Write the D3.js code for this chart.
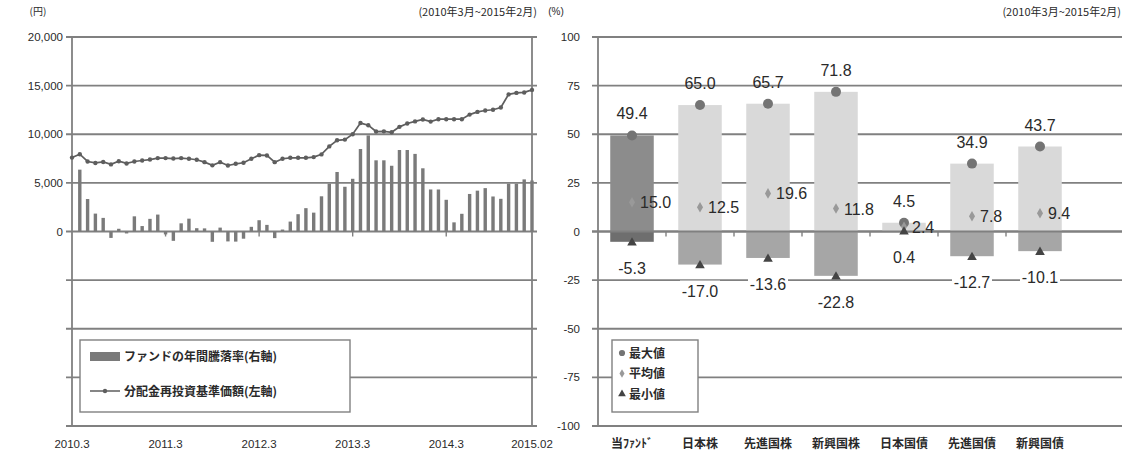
<!DOCTYPE html>
<html><head><meta charset="utf-8">
<script src="https://cdn.jsdelivr.net/npm/d3@7"></script>
<style>
body{margin:0;background:#fff}
svg text{font-family:"Liberation Sans","Noto Sans CJK JP",sans-serif;fill:#2a2a2a}
.jp{font-family:"Noto Sans CJK JP",sans-serif}
</style></head><body>
<svg id="c" width="1125" height="461"></svg>
<script>
// Monthly series, 2010.3 – 2015.02 (60 months)
const navYen = [7600,7950,7200,7050,7150,6900,7230,7000,7200,7300,7400,7550,
  7550,7500,7550,7480,7380,7130,6800,7130,6790,6960,7070,7480,
  7850,7820,7130,7480,7580,7580,7580,7650,7930,8750,9380,9450,
  10000,11150,10930,10280,10300,10200,10760,11100,11320,11520,11300,11550,
  11550,11550,11550,12020,12300,12440,12520,12750,14100,14250,14300,14560];
const annualReturn = [null,31.8,16.7,9.2,7.0,-3.3,1.4,-1.0,7.8,2.8,6.5,8.7,
  -1.5,-4.8,4.2,6.6,1.7,1.6,-5.3,2.0,-5.1,-5.2,-3.7,2.4,
  5.8,3.4,-3.4,1.0,5.1,8.9,12.0,9.7,18.1,24.6,30.6,23.0,
  27.1,42.4,49.4,36.6,36.6,33.8,41.9,41.9,39.9,32.5,21.6,21.6,
  16.3,4.7,9.1,19.3,21.0,22.3,18.0,16.8,24.6,24.6,26.8,26.2];
const monthTickIndex = [0,12,24,36,48,59];
const monthTickLabels = ["2010.3","2011.3","2012.3","2013.3","2014.3","2015.02"];
const yenTicks = [0,5000,10000,15000,20000];

// Asset class comparison
const assetClasses = ["当ﾌｧﾝﾄﾞ","日本株","先進国株","新興国株","日本国債","先進国債","新興国債"];
const maxValues = [49.4,65.0,65.7,71.8,4.5,34.9,43.7];
const avgValues = [15.0,12.5,19.6,11.8,2.4,7.8,9.4];
const minValues = [-5.3,-17.0,-13.6,-22.8,0.4,-12.7,-10.1];
const pctTicks = [-100,-75,-50,-25,0,25,50,75,100];

const periodLabel = "(2010年3月~2015年2月)";

const svg = d3.select("#c");
const GRID = "#808080";

// ---------- left panel ----------
const xL = d3.scaleLinear().domain([0,59]).range([72,532]);
const yYen = d3.scaleLinear().domain([0,20000]).range([231.5,37]);
const yPct = d3.scaleLinear().domain([-100,100]).range([426,37]);

const L = svg.append("g");
L.selectAll("line.grid").data(pctTicks).join("line")
  .attr("x1",66).attr("x2",537)
  .attr("y1",d=>yPct(d)).attr("y2",d=>yPct(d))
  .attr("stroke",GRID).attr("stroke-width",1.8);
L.append("line").attr("x1",xL(0)).attr("x2",xL(0)).attr("y1",yPct(100)).attr("y2",yPct(-100)).attr("stroke",GRID).attr("stroke-width",1.8);
L.append("line").attr("x1",xL(59)).attr("x2",xL(59)).attr("y1",yPct(100)).attr("y2",yPct(-100)).attr("stroke",GRID).attr("stroke-width",1.8);
L.selectAll("line.mt").data(monthTickIndex.slice(1,-1)).join("line")
  .attr("x1",d=>xL(d)).attr("x2",d=>xL(d)).attr("y1",yPct(0)).attr("y2",yPct(0)+5)
  .attr("stroke",GRID).attr("stroke-width",1.4);

L.selectAll("text.yl").data(yenTicks).join("text")
  .attr("x",63).attr("y",d=>yYen(d)+4).attr("text-anchor","end")
  .attr("font-size",11.5).text(d=>d3.format(",")(d));
L.append("text").attr("class","jp").attr("x",38).attr("y",15).attr("text-anchor","middle").attr("font-size",10).text("(円)");
L.append("text").attr("class","jp").attr("x",537).attr("y",16).attr("text-anchor","end").attr("font-size",11).text(periodLabel);

L.selectAll("text.xl").data(monthTickIndex).join("text")
  .attr("x",d=>xL(d)).attr("y",448).attr("text-anchor","middle")
  .attr("font-size",11.5).text((d,i)=>monthTickLabels[i]);

// annual return bars (right-hand % scale)
const barW = 3.4;
L.selectAll("rect.ret").data(annualReturn.map((v,i)=>({v,i})).filter(d=>d.v!==null)).join("rect")
  .attr("x",d=>xL(d.i)-barW/2).attr("width",barW)
  .attr("y",d=>Math.min(yPct(d.v),yPct(0)))
  .attr("height",d=>Math.abs(yPct(d.v)-yPct(0)))
  .attr("fill","#7a7a7a");

// NAV line (left-hand yen scale)
const line = d3.line().x((d,i)=>xL(i)).y(d=>yYen(d));
L.append("path").datum(navYen).attr("d",line).attr("fill","none").attr("stroke","#5e5e5e").attr("stroke-width",1.7);
L.selectAll("circle.nav").data(navYen).join("circle")
  .attr("cx",(d,i)=>xL(i)).attr("cy",d=>yYen(d)).attr("r",2.2).attr("fill","#5e5e5e");

// legend
const lg = L.append("g");
lg.append("rect").attr("x",80).attr("y",340).attr("width",270).attr("height",72).attr("fill","#fff").attr("stroke",GRID).attr("stroke-width",1.4);
lg.append("rect").attr("x",90).attr("y",352).attr("width",30).attr("height",9).attr("fill","#7a7a7a");
lg.append("text").attr("class","jp").attr("x",124).attr("y",361).attr("font-size",12).attr("font-weight","bold").attr("fill","#3a3a3a").text("ファンドの年間騰落率(右軸)");
lg.append("line").attr("x1",90).attr("x2",120).attr("y1",391).attr("y2",391).attr("stroke","#5e5e5e").attr("stroke-width",1.5);
lg.append("circle").attr("cx",105).attr("cy",391).attr("r",2.2).attr("fill","#5e5e5e");
lg.append("text").attr("class","jp").attr("x",124).attr("y",396).attr("font-size",12).attr("font-weight","bold").attr("fill","#3a3a3a").text("分配金再投資基準価額(左軸)");

// ---------- right panel ----------
const xR = d3.scaleBand().domain(assetClasses).range([598,1074]).paddingInner(0.36).paddingOuter(0.18);
const R = svg.append("g");
R.selectAll("line.grid").data(pctTicks).join("line")
  .attr("x1",592).attr("x2",1122)
  .attr("y1",d=>yPct(d)).attr("y2",d=>yPct(d))
  .attr("stroke",GRID).attr("stroke-width",1.8);
R.append("line").attr("x1",598).attr("x2",598).attr("y1",yPct(100)).attr("y2",yPct(-100)).attr("stroke",GRID).attr("stroke-width",1.8);
R.selectAll("text.yl").data(pctTicks).join("text")
  .attr("x",580).attr("y",d=>yPct(d)+4).attr("text-anchor","end")
  .attr("font-size",11.5).text(d=>d);
R.append("text").attr("x",556).attr("y",15).attr("text-anchor","middle").attr("font-size",10).text("(%)");
R.append("text").attr("class","jp").attr("x",1121).attr("y",16).attr("text-anchor","end").attr("font-size",11).text(periodLabel);

const step = xR.step();
R.selectAll("line.bt").data(assetClasses.slice(1)).join("line")
  .attr("x1",d=>xR(d)-step*xR.paddingInner()/2).attr("x2",d=>xR(d)-step*xR.paddingInner()/2)
  .attr("y1",yPct(0)).attr("y2",yPct(0)+5).attr("stroke",GRID).attr("stroke-width",1.4);

const rows = assetClasses.map((c,i)=>({c,i,max:maxValues[i],avg:avgValues[i],min:minValues[i]}));
const bw = xR.bandwidth();
R.selectAll("rect.up").data(rows).join("rect")
  .attr("x",d=>xR(d.c)).attr("width",bw)
  .attr("y",d=>yPct(d.max)).attr("height",d=>yPct(0)-yPct(d.max))
  .attr("fill",d=>d.i===0?"#8c8c8c":"#d9d9d9");
R.selectAll("rect.dn").data(rows.filter(d=>d.min<0)).join("rect")
  .attr("x",d=>xR(d.c)).attr("width",bw)
  .attr("y",yPct(0)).attr("height",d=>yPct(d.min)-yPct(0))
  .attr("fill",d=>d.i===0?"#6e6e6e":"#a6a6a6");
// zero line drawn again above the bars
R.append("line").attr("x1",592).attr("x2",1122).attr("y1",yPct(0)).attr("y2",yPct(0)).attr("stroke",GRID).attr("stroke-width",1.8);

const cx = d=>xR(d.c)+bw/2;
R.selectAll("circle.mx").data(rows).join("circle")
  .attr("cx",cx).attr("cy",d=>yPct(d.max)).attr("r",5).attr("fill","#747474");
R.selectAll("path.av").data(rows).join("path")
  .attr("transform",d=>`translate(${cx(d)},${yPct(d.avg)})`)
  .attr("d",d3.symbol(d3.symbolDiamond,32)).attr("fill","#999");
R.selectAll("path.mn").data(rows).join("path")
  .attr("transform",d=>`translate(${cx(d)},${yPct(d.min)+1})`)
  .attr("d",d3.symbol(d3.symbolTriangle,40)).attr("fill","#444");

const fmt = v=>v.toFixed(1);
R.selectAll("text.mxl").data(rows).join("text")
  .attr("x",cx).attr("y",d=>yPct(d.max)-16).attr("text-anchor","middle")
  .attr("font-size",16).text(d=>fmt(d.max));
R.selectAll("text.avl").data(rows).join("text")
  .attr("x",d=>cx(d)+8).attr("y",d=>yPct(d.avg)+6)
  .attr("font-size",16).text(d=>fmt(d.avg));
// min labels sit on a white plate that interrupts the grid
const mnG = R.selectAll("g.mnl").data(rows).join("g")
  .attr("transform",d=>`translate(${cx(d)},${yPct(d.min)+26})`);
mnG.append("rect").attr("x",-20).attr("y",-10).attr("width",40).attr("height",20).attr("fill","#fff");
mnG.append("text").attr("text-anchor","middle").attr("y",6).attr("font-size",16).text(d=>fmt(d.min));

R.selectAll("text.cat").data(assetClasses).join("text")
  .attr("class","jp").attr("x",d=>xR(d)+bw/2).attr("y",448).attr("text-anchor","middle")
  .attr("font-size",12).attr("font-weight","bold").attr("fill","#3a3a3a").text(d=>d);

// legend
const rl = R.append("g");
rl.append("rect").attr("x",612).attr("y",340).attr("width",86).attr("height",72).attr("fill","#fff").attr("stroke",GRID).attr("stroke-width",1.4);
const legItems = [
  {t:"最大値", s:d3.symbolCircle, size:30, f:"#747474"},
  {t:"平均値", s:d3.symbolDiamond, size:22, f:"#999"},
  {t:"最小値", s:d3.symbolTriangle, size:26, f:"#444"}];
legItems.forEach((it,k)=>{
  const y = 353+k*20.5;
  rl.append("path").attr("transform",`translate(622,${y})`).attr("d",d3.symbol(it.s,it.size)).attr("fill",it.f);
  rl.append("text").attr("class","jp").attr("x",629).attr("y",y+4.5).attr("font-size",12).attr("font-weight","bold").attr("fill","#3a3a3a").text(it.t);
});
</script></body></html>
